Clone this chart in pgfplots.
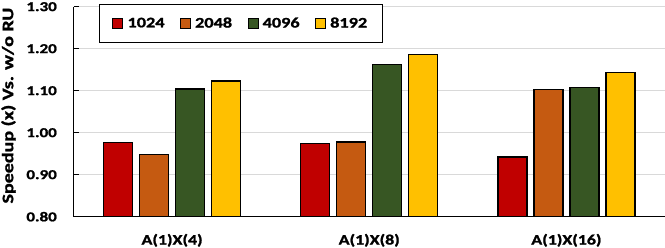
\documentclass[border=0pt]{standalone}
\usepackage{pgfplots}
\pgfplotsset{compat=1.18}
\usepackage{fontspec}
\setmainfont{Carlito}[BoldFeatures={FakeBold=1.2}]
\newcommand{\sx}[1]{\scalebox{1.25}[1]{#1}}
\definecolor{cRed}{HTML}{C00000}
\definecolor{cOrange}{HTML}{C55A11}
\definecolor{cGreen}{HTML}{375623}
\definecolor{cYellow}{HTML}{FFC000}
\definecolor{gridc}{HTML}{D9D9D9}
\begin{document}
\begin{tikzpicture}
\begin{axis}[
  name=ax,
  width=591.5pt, height=210pt, scale only axis,
  ybar=7pt, bar width=29pt,
  xmin=-0.5, xmax=2.5,
  ymin=0.8, ymax=1.3,
  ytick={0.8,0.9,1.0,1.1,1.2,1.3},
  xtick={0,1,2},
  xticklabels={\sx{A(1)X(4)},\sx{A(1)X(8)},\sx{A(1)X(16)}},
  axis x line*=bottom, axis y line*=left,
  axis line style={black, line width=1pt},
  tick align=inside, major tick length=5pt,
  ytick style={black, line width=1pt},
  xtick style={draw=none},
  ymajorgrids, major grid style={gridc, line width=1pt},
  /pgf/number format/.cd, fixed, fixed zerofill, precision=2, assume math mode=true,
  /pgfplots/.cd,
  yticklabel={\sx{\pgfmathprintnumber{\tick}}},
  yticklabel style={font=\fontsize{13.6}{16}\bfseries, inner sep=0pt, xshift=-16.5pt},
  xticklabel style={font=\fontsize{14.3}{17}\bfseries, inner sep=0pt, anchor=north, yshift=-17pt},
  ylabel={\sx{Speedup (x) Vs. w/o RU}},
  every axis y label/.style={at={(axis description cs:-0.1099,0.529)}, rotate=90, anchor=center, font=\fontsize{16}{18}\bfseries},
  legend columns=4,
  legend style={at={(axis description cs:0.0431,1.0129)}, anchor=north west,
    draw=black, line width=1pt, fill=white,
    font=\fontsize{14.6}{17}\bfseries,
    inner xsep=13pt, inner ysep=11pt,
    /tikz/every even column/.append style={column sep=13.5pt}},
  legend image code/.code={\draw[#1, line width=0.8pt] (0pt,-5pt) rectangle (10pt,5pt); \path (12pt,0pt);},
]
\addplot[fill=cRed, draw=black, line width=1.3pt] coordinates {(0,0.977) (1,0.975) (2,0.942)};
\addplot[fill=cOrange, draw=black, line width=1.3pt] coordinates {(0,0.948) (1,0.978) (2,1.103)};
\addplot[fill=cGreen, draw=black, line width=1.3pt] coordinates {(0,1.104) (1,1.163) (2,1.108)};
\addplot[fill=cYellow, draw=black, line width=1.3pt] coordinates {(0,1.123) (1,1.186) (2,1.143)};
\legend{\sx{1024},\sx{2048},\sx{4096},\sx{8192}}
\end{axis}
\pgfresetboundingbox
\path ([xshift=-73.5pt,yshift=-31.3pt]ax.south west) rectangle ([yshift=6.7pt]ax.north east);
\end{tikzpicture}
\end{document}
